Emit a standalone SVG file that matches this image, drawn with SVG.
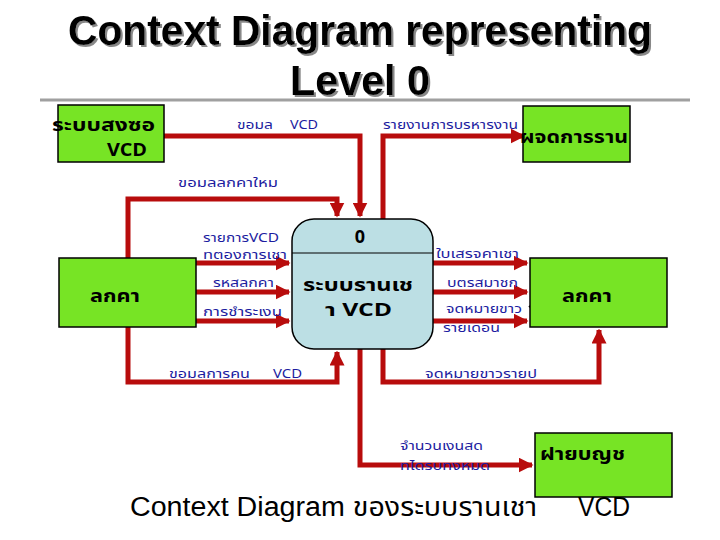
<svg xmlns="http://www.w3.org/2000/svg" width="720" height="540" viewBox="0 0 720 540">
<style>
.title{font-family:"Liberation Sans",Arial,sans-serif;font-weight:bold;font-size:42px;fill:#000}
.ent{fill:#77e425;stroke:#000;stroke-width:1.5}
.et{font-family:"Noto Sans Thai","Tahoma","Liberation Sans",sans-serif;font-weight:bold;font-size:18px;fill:#000}
.lbl{font-family:"Noto Sans Thai","Tahoma","Liberation Sans",sans-serif;font-size:13px;fill:#1c1ca0}
.flow{fill:none;stroke:#b80c0c;stroke-width:5}
.cap{font-family:"Liberation Sans","Noto Sans Thai",sans-serif;font-size:27px;fill:#000}
</style>
<defs>
<marker id="ah" viewBox="0 0 10 10" refX="9" refY="5" markerWidth="3" markerHeight="3" orient="auto" markerUnits="strokeWidth">
<path d="M0,0 L10,5 L0,10 z" fill="#b80c0c"/>
</marker>
<filter id="sh" x="-5%" y="-20%" width="110%" height="140%">
<feDropShadow dx="2" dy="2" stdDeviation="0.6" flood-color="#888"/>
</filter>
</defs>
<rect width="720" height="540" fill="#fff"/>
<g id="title" filter="url(#sh)">
<text class="title" x="68" y="45" textLength="584" lengthAdjust="spacingAndGlyphs">Context Diagram representing</text>
<text class="title" x="290" y="95" textLength="140" lengthAdjust="spacingAndGlyphs">Level 0</text>
</g>
<line x1="40" y1="100" x2="690" y2="100" stroke="#a0a0a0" stroke-width="3"/>
<g id="connectors">
<polyline class="flow" points="164,136 360,136 360,216" marker-end="url(#ah)"/>
<polyline class="flow" points="383,219 383,136 524,136" marker-end="url(#ah)"/>
<polyline class="flow" points="128,258 128,199 337,199 337,216" marker-end="url(#ah)"/>
<line class="flow" x1="196" y1="263" x2="289" y2="263" marker-end="url(#ah)"/>
<line class="flow" x1="196" y1="292" x2="289" y2="292" marker-end="url(#ah)"/>
<line class="flow" x1="196" y1="321" x2="289" y2="321" marker-end="url(#ah)"/>
<line class="flow" x1="433" y1="263" x2="527" y2="263" marker-end="url(#ah)"/>
<line class="flow" x1="433" y1="292" x2="527" y2="292" marker-end="url(#ah)"/>
<line class="flow" x1="433" y1="321" x2="527" y2="321" marker-end="url(#ah)"/>
<polyline class="flow" points="128,327 128,382 337,382 337,352" marker-end="url(#ah)"/>
<polyline class="flow" points="383,349 383,382 599,382 599,330" marker-end="url(#ah)"/>
<polyline class="flow" points="360,349 360,465 532,465" marker-end="url(#ah)"/>
<line x1="529" y1="306" x2="553" y2="324" stroke="#000" stroke-width="2"/>
</g>
<g id="labels">
<text class="lbl" x="237" y="129" textLength="36" lengthAdjust="spacingAndGlyphs">ขอมล</text>
<text class="lbl" x="290" y="129" textLength="28" lengthAdjust="spacingAndGlyphs">VCD</text>
<text class="lbl" x="383" y="129" textLength="135" lengthAdjust="spacingAndGlyphs">รายงานการบรหารงาน</text>
<text class="lbl" x="178" y="187" textLength="100" lengthAdjust="spacingAndGlyphs">ขอมลลกคาใหม</text>
<text class="lbl" x="203" y="242" textLength="76" lengthAdjust="spacingAndGlyphs">รายการVCD</text>
<text class="lbl" x="203" y="259" textLength="84" lengthAdjust="spacingAndGlyphs">ทตองการเชา</text>
<text class="lbl" x="213" y="287" textLength="61" lengthAdjust="spacingAndGlyphs">รหสลกคา</text>
<text class="lbl" x="203" y="316" textLength="79" lengthAdjust="spacingAndGlyphs">การชำระเงน</text>
<text class="lbl" x="436" y="258" textLength="83" lengthAdjust="spacingAndGlyphs">ใบเสรจคาเชา</text>
<text class="lbl" x="447" y="287" textLength="71" lengthAdjust="spacingAndGlyphs">บตรสมาชก</text>
<text class="lbl" x="446" y="313" textLength="76" lengthAdjust="spacingAndGlyphs">จดหมายขาว</text>
<text class="lbl" x="443" y="332" textLength="57" lengthAdjust="spacingAndGlyphs">รายเดอน</text>
<text class="lbl" x="169" y="378" textLength="81" lengthAdjust="spacingAndGlyphs">ขอมลการคน</text>
<text class="lbl" x="273" y="378" textLength="29" lengthAdjust="spacingAndGlyphs">VCD</text>
<text class="lbl" x="425" y="378" textLength="112" lengthAdjust="spacingAndGlyphs">จดหมายขาวรายป</text>
<text class="lbl" x="400" y="450" textLength="83" lengthAdjust="spacingAndGlyphs">จำนวนเงนสด</text>
<text class="lbl" x="400" y="470" textLength="90" lengthAdjust="spacingAndGlyphs">ทไดรบทงหมด</text>
</g>
<g id="ent-order">
<rect class="ent" x="58" y="105" width="106" height="57"/>
<text class="et" x="52" y="131" textLength="103" lengthAdjust="spacingAndGlyphs">ระบบสงซอ</text>
<text class="et" x="107" y="156" textLength="40" lengthAdjust="spacingAndGlyphs">VCD</text>
</g>
<g id="ent-manager">
<rect class="ent" x="523" y="106" width="107" height="56"/>
<text class="et" x="520" y="143" textLength="108" lengthAdjust="spacingAndGlyphs">ผจดการราน</text>
</g>
<g id="ent-customer-left">
<rect class="ent" x="59" y="258" width="137" height="69"/>
<text class="et" x="90" y="302" textLength="50" lengthAdjust="spacingAndGlyphs">ลกคา</text>
</g>
<g id="ent-customer-right">
<rect class="ent" x="530" y="258" width="137" height="69"/>
<text class="et" x="562" y="302" textLength="50" lengthAdjust="spacingAndGlyphs">ลกคา</text>
</g>
<g id="ent-accounting">
<rect class="ent" x="535" y="433" width="137" height="64"/>
<text class="et" x="540" y="460" textLength="85" lengthAdjust="spacingAndGlyphs">ฝายบญช</text>
</g>
<g id="process">
<rect x="292" y="219" width="141" height="130" rx="22" ry="22" fill="#bcdfe4" stroke="#000" stroke-width="1.5"/>
<line x1="292" y1="253" x2="433" y2="253" stroke="#000" stroke-width="1"/>
<text class="et" x="360" y="243" text-anchor="middle">0</text>
<text class="et" x="303" y="291" textLength="110" lengthAdjust="spacingAndGlyphs">ระบบรานเช</text>
<text class="et" x="325" y="316" textLength="67" lengthAdjust="spacingAndGlyphs">า VCD</text>
</g>
<g id="caption">
<text class="cap" x="130" y="516" textLength="407" lengthAdjust="spacingAndGlyphs">Context Diagram ของระบบรานเชา</text>
<text class="cap" x="578" y="516" textLength="52" lengthAdjust="spacingAndGlyphs">VCD</text>
</g>
</svg>
